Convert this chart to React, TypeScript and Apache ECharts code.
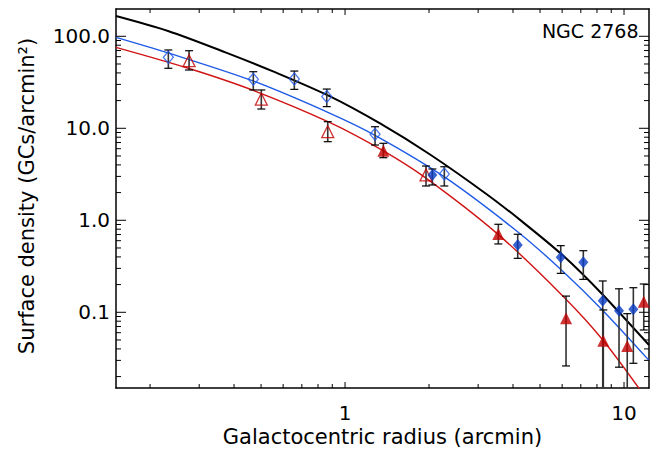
import React, { useEffect, useRef } from "react";
import * as echarts from "echarts";

// Axis ranges (arcmin, GCs/arcmin^2)
const X_MIN = 0.151;
const X_MAX = 12.29;
const Y_MIN = 0.01503;
const Y_MAX = 198;

// Model curves
const blackCurveX = [0.151, 0.232, 0.3746, 0.552, 0.8835, 1.335, 2.017, 3.201, 4.239, 6.045, 8.41, 12.29];
const blackCurveY = [166.2, 114.2, 66.5, 41.5, 22.2, 11.28, 5.19, 1.946, 1.01, 0.4134, 0.1542, 0.0441];

const blueCurveX = [0.151, 0.232, 0.468, 0.8835, 1.281, 2.264, 4.239, 6.045, 8.41, 12.29];
const blueCurveY = [97.5, 66.0, 32.7, 14.56, 8.39, 2.978, 0.715, 0.2777, 0.1041, 0.03];

const redCurveX = [0.151, 0.276, 0.468, 0.8835, 1.368, 1.951, 3.535, 6.045, 8.41, 12.29];
const redCurveY = [75.9, 44.7, 25.9, 11.53, 5.71, 2.868, 0.7027, 0.1496, 0.0497, 0.01051];

// Inner points (open blue diamonds)
const blueOpenX = [0.2326, 0.469, 0.658, 0.86, 1.281, 2.269];
const blueOpenY = [59.1, 34.1, 34.4, 22.1, 8.61, 3.19];
const blueOpenLo = [44.9, 26.1, 26.5, 17.2, 6.58, 2.36];
const blueOpenHi = [71.0, 41.2, 41.9, 26.7, 10.4, 3.82];

// Inner points (open red triangles)
const redOpenX = [0.276, 0.501, 0.867, 1.951];
const redOpenY = [54.3, 20.7, 9.18, 3.11];
const redOpenLo = [43.0, 16.2, 7.15, 2.36];
const redOpenHi = [69.7, 26.1, 11.8, 3.89];

// Outer points (filled blue diamonds)
const blueFillX = [2.056, 4.159, 5.932, 7.147, 8.389, 9.596, 10.8];
const blueFillY = [3.11, 0.539, 0.396, 0.35, 0.1337, 0.104, 0.1078];
const blueFillLo = [2.42, 0.386, 0.265, 0.228, 0.001, 0.0253, 0.0279];
const blueFillHi = [3.61, 0.705, 0.53, 0.467, 0.219, 0.18, 0.185];

// Outer points (filled red triangles)
const redFillX = [1.372, 3.544, 6.197, 8.43, 10.27, 11.77];
const redFillY = [5.71, 0.71, 0.0861, 0.0491, 0.043, 0.1304];
const redFillLo = [4.79, 0.553, 0.0261, 0.001, 0.001, 0.0642];
const redFillHi = [6.87, 0.905, 0.15, 0.106, 0.0966, 0.203];

// Tick positions
const xMajorTicks = [1, 10];
const xMinorTicks = [0.2, 0.3, 0.4, 0.5, 0.6, 0.7, 0.8, 0.9, 2, 3, 4, 5, 6, 7, 8, 9];
const yMajorTicks = [0.1, 1, 10, 100];
const yMinorTicks = [
  0.02, 0.03, 0.04, 0.05, 0.06, 0.07, 0.08, 0.09,
  0.2, 0.3, 0.4, 0.5, 0.6, 0.7, 0.8, 0.9,
  2, 3, 4, 5, 6, 7, 8, 9,
  20, 30, 40, 50, 60, 70, 80, 90,
];

const TITLE = "NGC 2768";
const X_NAME = "Galactocentric radius (arcmin)";
const Y_NAME = "Surface density (GCs/arcmin²)";

const FONT = "DejaVu Sans";
const BLUE_LINE = "#1f5be6";
const BLUE_OPEN = "#2258e8";
const BLUE_FILL = "#0a3cc4";
const RED_LINE = "#d01414";
const RED_MARK = "#c00000";

function zip(xs: number[], ys: number[]) {
  return xs.map((x, i) => [x, ys[i]]);
}
function zip3(xs: number[], lo: number[], hi: number[]) {
  return xs.map((x, i) => [x, lo[i], hi[i]]);
}
function isPow10(v: number) {
  const l = Math.log10(v);
  return Math.abs(l - Math.round(l)) < 1e-6;
}

export default function App() {
  const ref = useRef<HTMLDivElement>(null);

  useEffect(() => {
    const chart = echarts.init(ref.current!, null, { renderer: "svg" });

    const errData = [
      ...zip3(blueOpenX, blueOpenLo, blueOpenHi),
      ...zip3(redOpenX, redOpenLo, redOpenHi),
      ...zip3(blueFillX, blueFillLo, blueFillHi),
      ...zip3(redFillX, redFillLo, redFillHi),
    ];

    const axisLine = { show: true, lineStyle: { color: "#000", width: 1.5 } };

    const textElems: any[] = [
      {
        type: "text",
        id: "title",
        x: 638.5,
        y: 30.5,
        style: {
          text: TITLE,
          fontFamily: FONT,
          fontSize: 19,
          fill: "#000",
          textAlign: "right",
          textVerticalAlign: "middle",
        },
      },
      {
        type: "text",
        id: "xname",
        x: 382.5,
        y: 436.5,
        style: {
          text: X_NAME,
          fontFamily: FONT,
          fontSize: 21,
          fill: "#000",
          textAlign: "center",
          textVerticalAlign: "middle",
        },
      },
      {
        type: "text",
        id: "yname",
        x: 27,
        y: 196,
        rotation: Math.PI / 2,
        style: {
          text: Y_NAME,
          fontFamily: FONT,
          fontSize: 21,
          fill: "#000",
          textAlign: "center",
          textVerticalAlign: "middle",
        },
      },
    ];

    const option: any = {
      animation: false,
      backgroundColor: "#fff",
      grid: { left: 116, right: 11, top: 9, bottom: 64, containLabel: false },
      xAxis: [
        {
          type: "log",
          logBase: 10,
          min: X_MIN,
          max: X_MAX,
          position: "bottom",
          axisLine,
          splitLine: { show: false },
          axisTick: { show: false },
          axisLabel: {
            show: true,
            margin: 15,
            fontFamily: FONT,
            fontSize: 20,
            color: "#000",
            formatter: (v: number) => (isPow10(v) ? String(Math.round(v)) : ""),
          },
        },
        {
          type: "log",
          logBase: 10,
          min: X_MIN,
          max: X_MAX,
          position: "top",
          axisLine,
          splitLine: { show: false },
          axisTick: { show: false },
          axisLabel: { show: false },
        },
      ],
      yAxis: [
        {
          type: "log",
          logBase: 10,
          min: Y_MIN,
          max: Y_MAX,
          position: "left",
          axisLine,
          splitLine: { show: false },
          axisTick: { show: false },
          axisLabel: {
            show: true,
            margin: 6,
            fontFamily: FONT,
            fontSize: 20,
            color: "#000",
            padding: [8, 0, 0, 0],
            formatter: (v: number) => (isPow10(v) ? v.toFixed(1) : ""),
          },
        },
        {
          type: "log",
          logBase: 10,
          min: Y_MIN,
          max: Y_MAX,
          position: "right",
          axisLine,
          splitLine: { show: false },
          axisTick: { show: false },
          axisLabel: { show: false },
        },
      ],
      graphic: textElems,
      series: [
        {
          type: "line",
          name: "black",
          data: zip(blackCurveX, blackCurveY),
          showSymbol: false,
          smooth: 0.3,
          clip: true,
          z: 2,
          lineStyle: { color: "#000", width: 2 },
        },
        {
          type: "line",
          name: "blue",
          data: zip(blueCurveX, blueCurveY),
          showSymbol: false,
          smooth: 0.3,
          clip: true,
          z: 2,
          lineStyle: { color: BLUE_LINE, width: 1.4 },
        },
        {
          type: "line",
          name: "red",
          data: zip(redCurveX, redCurveY),
          showSymbol: false,
          smooth: 0.3,
          clip: true,
          z: 2,
          lineStyle: { color: RED_LINE, width: 1.4 },
        },
        {
          type: "custom",
          name: "errors",
          silent: true,
          clip: true,
          z: 3,
          data: errData,
          encode: { x: 0, y: [1, 2] },
          renderItem: (params: any, api: any) => {
            const cs = params.coordSys;
            const x = api.value(0);
            const lo = api.value(1);
            const hi = api.value(2);
            const top = api.coord([x, hi]);
            const bot = api.coord([x, lo]);
            const yTop = cs.y;
            const yBot = cs.y + cs.height;
            const px = top[0];
            const y1 = Math.max(top[1], yTop);
            const y2 = Math.min(bot[1], yBot);
            const hw = 4;
            const children: any[] = [
              { type: "line", shape: { x1: px, y1, x2: px, y2 }, style: { stroke: "#333", lineWidth: 1.6 } },
            ];
            if (top[1] >= yTop) {
              children.push({ type: "line", shape: { x1: px - hw, y1: top[1], x2: px + hw, y2: top[1] }, style: { stroke: "#000", lineWidth: 1.2 } });
            }
            if (bot[1] <= yBot) {
              children.push({ type: "line", shape: { x1: px - hw, y1: bot[1], x2: px + hw, y2: bot[1] }, style: { stroke: "#000", lineWidth: 1.2 } });
            }
            return { type: "group", children };
          },
        },
        {
          type: "scatter",
          name: "blueOpen",
          data: zip(blueOpenX, blueOpenY),
          symbol: "diamond",
          symbolSize: [10, 12],
          z: 4,
          itemStyle: { color: "rgba(0,0,0,0)", borderColor: BLUE_OPEN, borderWidth: 1.3 },
        },
        {
          type: "scatter",
          name: "redOpen",
          data: zip(redOpenX, redOpenY),
          symbol: "triangle",
          symbolSize: [12, 12],
          z: 4,
          itemStyle: { color: "rgba(0,0,0,0)", borderColor: RED_MARK, borderWidth: 1.3 },
        },
        {
          type: "scatter",
          name: "blueFill",
          data: zip(blueFillX, blueFillY),
          symbol: "diamond",
          symbolSize: [10, 12],
          z: 4,
          itemStyle: { color: BLUE_FILL },
        },
        {
          type: "scatter",
          name: "redFill",
          data: zip(redFillX, redFillY),
          symbol: "triangle",
          symbolSize: [12, 12],
          z: 4,
          itemStyle: { color: RED_MARK },
        },
      ],
    };

    chart.setOption(option);

    // Ticks placed through the chart's own log scales
    const xp = (v: number) => chart.convertToPixel({ xAxisIndex: 0 }, v) as unknown as number;
    const yp = (v: number) => chart.convertToPixel({ yAxisIndex: 0 }, v) as unknown as number;
    const L = xp(X_MIN);
    const R = xp(X_MAX);
    const T = yp(Y_MAX);
    const B = yp(Y_MIN);
    const tickElems: any[] = [];
    const addLine = (x1: number, y1: number, x2: number, y2: number) => {
      tickElems.push({
        type: "line",
        silent: true,
        z: 10,
        shape: { x1, y1, x2, y2 },
        style: { stroke: "#000", lineWidth: 1 },
      });
    };
    const addX = (v: number, len: number) => {
      const x = xp(v);
      addLine(x, B, x, B - len);
      addLine(x, T, x, T + len);
    };
    const addY = (v: number, len: number) => {
      const y = yp(v);
      addLine(L, y, L + len, y);
      addLine(R, y, R - len, y);
    };
    xMajorTicks.forEach((v) => addX(v, 6));
    xMinorTicks.forEach((v) => addX(v, 4));
    yMajorTicks.forEach((v) => addY(v, 10));
    yMinorTicks.forEach((v) => addY(v, 5));

    chart.setOption({ graphic: [...textElems, ...tickElems] });

    return () => chart.dispose();
  }, []);

  return (
    <div
      ref={ref}
      style={{ position: "fixed", left: 0, top: 0, width: 660, height: 452, background: "#fff" }}
    />
  );
}
